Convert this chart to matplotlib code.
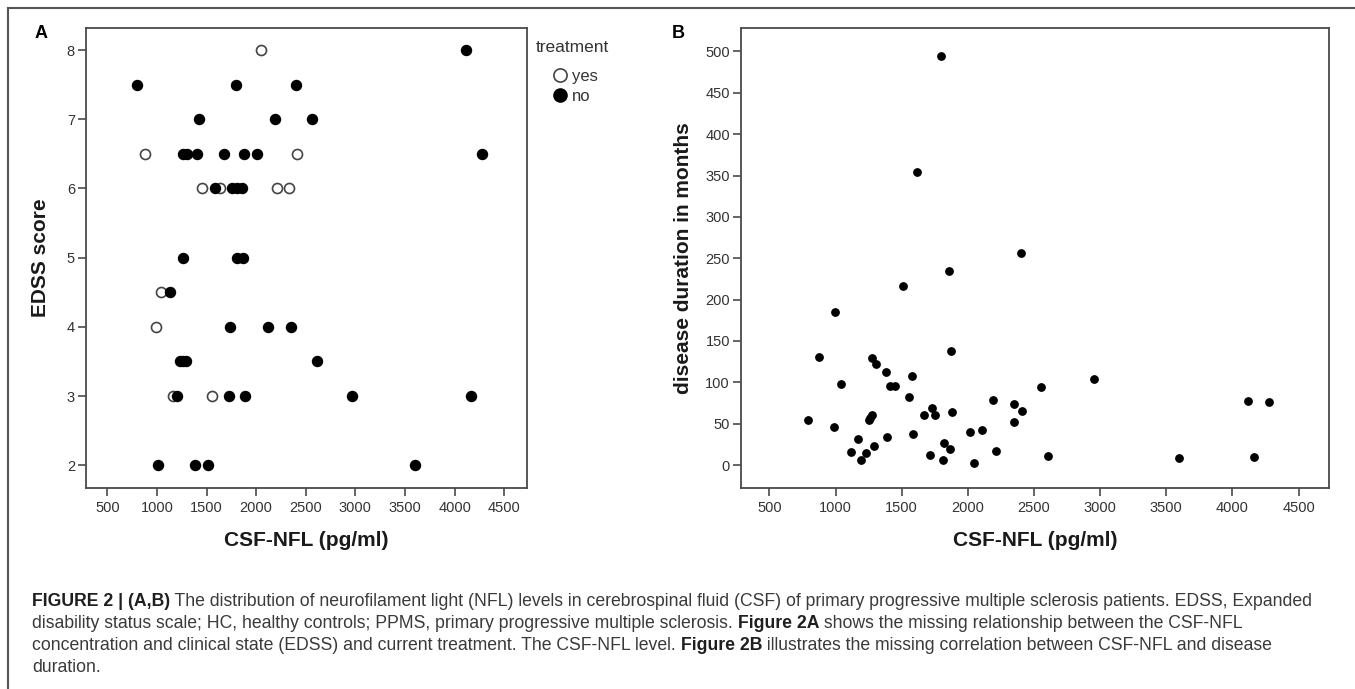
import matplotlib
matplotlib.use("Agg")
import matplotlib.pyplot as plt
from matplotlib.lines import Line2D

plt.rcParams["font.family"] = ["Liberation Sans", "DejaVu Sans"]

# ── Datos ─────────────────────────────────────────────
# Panel A: EDSS frente a CSF-NFL, separado por tratamiento
a_yes_nfl = [2050, 876, 2410, 1453, 1631, 2208, 2330, 1041, 993, 1158, 1557]
a_yes_edss = [8, 6.5, 6.5, 6, 6, 6, 6, 4.5, 4, 3, 3]

a_no_nfl = [4120, 800, 1800, 2400, 1420, 2195, 2560,
            1262, 1308, 1405, 1678, 1875, 2008, 4276,
            1590, 1755, 1810, 1860, 1262, 1812, 1866, 1127,
            1732, 2118, 2353, 1230, 1260, 1290, 2611,
            1201, 1722, 1890, 2963, 4163, 1013, 1386, 1510, 3602]
a_no_edss = [8, 7.5, 7.5, 7.5, 7, 7, 7,
             6.5, 6.5, 6.5, 6.5, 6.5, 6.5, 6.5,
             6, 6, 6, 6, 5, 5, 5, 4.5,
             4, 4, 4, 3.5, 3.5, 3.5, 3.5,
             3, 3, 3, 3, 3, 2, 2, 2, 2]

# Panel B: duracion de la enfermedad frente a CSF-NFL
b_nfl = [1798, 1616, 1855, 1508, 2400,
         999, 873, 1039, 795, 986, 1117, 1170, 1193, 1233, 1288,
         1251, 1263, 1276, 1276, 1309, 1384, 1412, 1450,
         1387, 1576, 1558, 1588, 1666, 1727, 1755, 1717, 1810, 1823,
         1866, 1876, 1878, 2014, 2050, 2110, 2191, 2216,
         2349, 2407, 2349, 2556, 2957, 2609, 3597, 4115, 4277, 4161]
b_duration = [495, 354, 235, 217, 256,
              185, 131, 98, 54, 46, 16, 31, 6, 14, 23,
              55, 57, 60, 129, 122, 113, 96, 95,
              34, 108, 82, 38, 60, 69, 61, 12, 6, 27,
              19, 138, 64, 40, 2, 42, 78, 17,
              74, 65, 52, 94, 104, 11, 9, 77, 76, 10]

x_ticks = [500, 1000, 1500, 2000, 2500, 3000, 3500, 4000, 4500]
a_yticks = [2, 3, 4, 5, 6, 7, 8]
b_yticks = [0, 50, 100, 150, 200, 250, 300, 350, 400, 450, 500]

caption_lines = [
    [("FIGURE 2 | (A,B)", True),
     (" The distribution of neurofilament light (NFL) levels in cerebrospinal fluid (CSF) "
      "of primary progressive multiple sclerosis patients. EDSS, Expanded", False)],
    [("disability status scale; HC, healthy controls; PPMS, primary progressive multiple sclerosis. ", False),
     ("Figure 2A", True),
     (" shows the missing relationship between the CSF-NFL", False)],
    [("concentration and clinical state (EDSS) and current treatment. The CSF-NFL level. ", False),
     ("Figure 2B", True),
     (" illustrates the missing correlation between CSF-NFL and disease", False)],
    [("duration.", False)],
]

W, H = 1355, 689
SPINE = "#4a4a4a"
TXT = "#333333"

fig = plt.figure(figsize=(W / 100, H / 100), dpi=100)


def style_axes(ax):
    for s in ax.spines.values():
        s.set_color(SPINE)
        s.set_linewidth(1.3)
    ax.tick_params(direction="out", length=6, width=1.2, color=SPINE,
                   labelcolor=TXT, labelsize=10.5)
    ax.tick_params(axis="x", pad=3.5)
    ax.tick_params(axis="y", pad=2)
    ax.set_xlim(285, 4730)
    ax.set_xticks(x_ticks)


# ── Panel A ───────────────────────────────────────────
axA = fig.add_axes([86 / W, 1 - 488 / H, 441 / W, 460 / H])
axA.scatter(a_yes_nfl, a_yes_edss, s=52, facecolor="white",
            edgecolor="#444444", linewidth=1.2, zorder=2)
axA.scatter(a_no_nfl, a_no_edss, s=52, color="black", zorder=3)
style_axes(axA)
axA.set_ylim(1.67, 8.32)
axA.set_yticks(a_yticks)
axA.set_xlabel("CSF-NFL (pg/ml)", fontsize=15, fontweight="bold", color="#1a1a1a")
axA.set_ylabel("EDSS score", fontsize=15, fontweight="bold", color="#1a1a1a")
axA.xaxis.set_label_coords(0.5, -0.094)
axA.yaxis.set_label_coords(-0.082, 0.5)

fig.text(536 / W, 1 - 47 / H, "treatment", fontsize=12.5, color=TXT, va="center")
handles = [Line2D([], [], ls="", marker="o", ms=9.5, mfc="white", mec="#444444", mew=1.2),
           Line2D([], [], ls="", marker="o", ms=9.5, color="black")]
axA.legend(handles, ["yes", "no"], loc="upper left",
           bbox_to_anchor=(553 / W, 1 - 69 / H), bbox_transform=fig.transFigure,
           frameon=False, borderpad=0, borderaxespad=0, handlelength=0.8,
           handletextpad=0.35, labelspacing=0.3, fontsize=12, labelcolor=TXT)

# ── Panel B ───────────────────────────────────────────
axB = fig.add_axes([741 / W, 1 - 488 / H, 588 / W, 460.5 / H])
axB.scatter(b_nfl, b_duration, s=28, color="black", zorder=3)
style_axes(axB)
axB.set_ylim(-27.8, 529)
axB.set_yticks(b_yticks)
axB.set_xlabel("CSF-NFL (pg/ml)", fontsize=15, fontweight="bold", color="#1a1a1a")
axB.set_ylabel("disease duration in months", fontsize=15, fontweight="bold", color="#1a1a1a")
axB.xaxis.set_label_coords(0.5, -0.094)
axB.yaxis.set_label_coords(-0.082, 0.5)

fig.text(35 / W, 1 - 33 / H, "A", fontsize=13, fontweight="bold", va="center")
fig.text(672 / W, 1 - 33 / H, "B", fontsize=13, fontweight="bold", va="center")

# Marco de la figura (solo arriba y a la izquierda)
fig.add_artist(Line2D([8 / W, 1], [1 - 8 / H, 1 - 8 / H], transform=fig.transFigure,
                      color="#555555", lw=1.5))
fig.add_artist(Line2D([8 / W, 8 / W], [0, 1 - 8 / H], transform=fig.transFigure,
                      color="#555555", lw=1.5))

# ── Pie de figura ─────────────────────────────────────
renderer = fig.canvas.get_renderer()
inv = fig.transFigure.inverted()


def draw_line(parts, x0, y, size):
    x = x0
    drawn = []
    for txt, bold in parts:
        t = fig.text(x, y, txt, fontsize=size, va="center",
                     fontweight="bold" if bold else "normal",
                     color="#1f1f1f" if bold else "#3a3a3a")
        bb = t.get_window_extent(renderer)
        x = inv.transform((bb.x1, bb.y0))[0]
        drawn.append(t)
    return x, drawn


# ajustar el tamano para que la primera linea ocupe el mismo ancho
end, tmp = draw_line(caption_lines[0], 32 / W, 0.5, 10)
for t in tmp:
    t.remove()
cap_size = 10 * (1286 / W) / (end - 32 / W)

for i, parts in enumerate(caption_lines):
    y = 1 - (602 + i * 21.7) / H
    draw_line(parts, 32 / W, y, cap_size)

fig.savefig("out.png", dpi=100)
